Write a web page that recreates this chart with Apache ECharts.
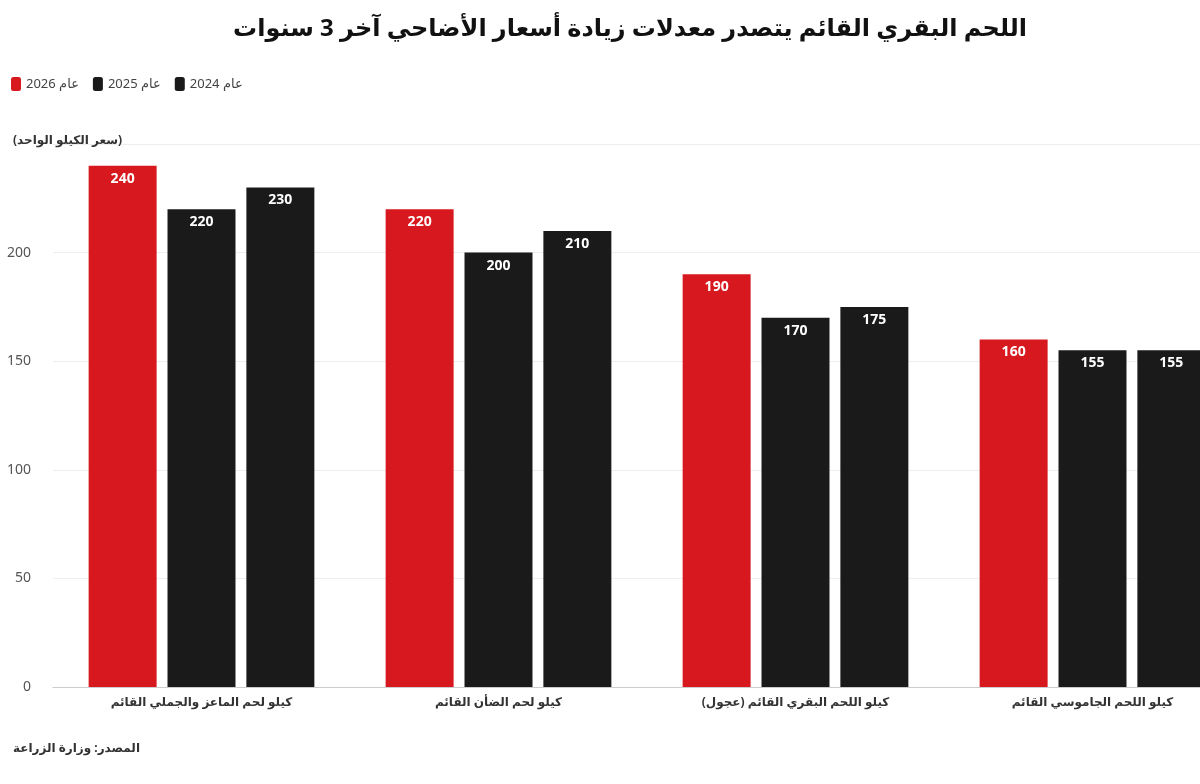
<!DOCTYPE html>
<html><head><meta charset="utf-8">
<script src="https://cdn.jsdelivr.net/npm/echarts@6/dist/echarts.min.js"></script>
<style>html,body{margin:0;padding:0;background:#fff;overflow:hidden;width:1200px;height:784px}#c{width:1241px;height:784px}</style>
</head><body><div id="c"></div>
<script>
const categories = ['كيلو لحم الماعز والجملي القائم','كيلو لحم الضأن القائم','كيلو اللحم البقري القائم (عجول)','كيلو اللحم الجاموسي القائم'];
const seriesNames = ['عام 2026','عام 2025','عام 2024'];
const v2026 = [240,220,190,160];
const v2025 = [220,200,170,155];
const v2024 = [230,210,175,155];
const colors = ['#d7191f','#1a1a1a','#1a1a1a'];
const chart = echarts.init(document.getElementById('c'));
const font = 'Noto Sans, DejaVu Sans, sans-serif';
const mk = (name, data, i) => ({
  name, type:'bar', data, barGap:'16%', barCategoryGap:'24%',
  itemStyle:{color:colors[i]},
  label:{show:true, position:'insideTop', color:'#fff', fontWeight:'bold', fontSize:14, fontFamily:font, distance:6}
});
chart.setOption({
  animation:false,
  textStyle:{fontFamily:font},
  title:[
    {text:'اللحم البقري القائم يتصدر معدلات زيادة أسعار الأضاحي آخر 3 سنوات', left:625, textAlign:'center', top:12, textStyle:{fontSize:24, fontWeight:'bold', color:'#111'}},
    {text:'(سعر الكيلو الواحد)', left:8, top:130, textStyle:{fontSize:12, fontWeight:'bold', color:'#333'}},
    {text:'المصدر: وزارة الزراعة', left:8, top:738, textStyle:{fontSize:12, fontWeight:'bold', color:'#333'}}
  ],
  legend:{left:6, top:72, itemWidth:10, itemHeight:14, itemGap:14, icon:'roundRect', textStyle:{fontSize:13, color:'#444'}},
  grid:{left:53, right:0, top:144, bottom:97},
  xAxis:{type:'category', data:categories, axisTick:{show:false}, axisLine:{lineStyle:{color:'#ccc'}},
    axisLabel:{fontSize:12, fontWeight:'bold', color:'#333', margin:10}},
  yAxis:{type:'value', min:0, max:250, interval:50,
    axisLabel:{fontSize:14, color:'#555', margin:22, formatter:v=>v===250?'':v},
    splitLine:{lineStyle:{color:'#eee'}}},
  series:[mk(seriesNames[0],v2026,0), mk(seriesNames[1],v2025,1), mk(seriesNames[2],v2024,2)]
});
</script></body></html>
